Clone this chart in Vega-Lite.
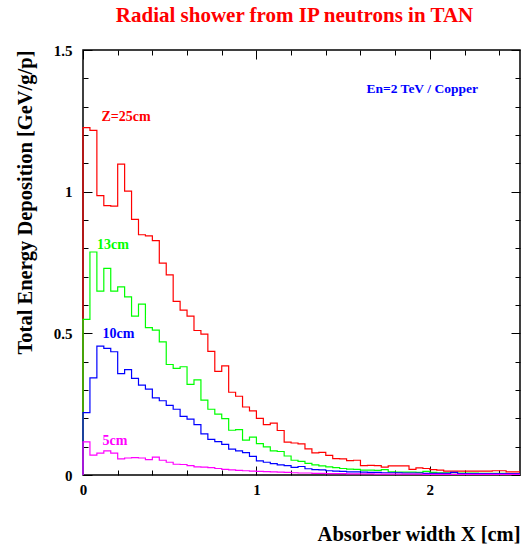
{
"$schema": "https://vega.github.io/schema/vega-lite/v6.json",
"width": 437, "height": 425,
"autosize": {"type": "none"},
"padding": {"left": 83, "top": 50, "right": 6, "bottom": 73},
"background": "white",
"title": {"text": "Radial shower from IP neutrons in TAN", "color": "#ff0000", "font": "Liberation Serif", "fontSize": 21, "fontWeight": "bold", "anchor": "middle", "frame": "group", "offset": 17, "dx": -7},
"config": {"view": {"stroke": "black", "strokeWidth": 1.5}},
"datasets": {
"hist": [
{"series":"Z=25cm","x":0,"y":0},{"series":"Z=25cm","x":0,"y":1.226},{"series":"Z=25cm","x":0.04,"y":1.216},{"series":"Z=25cm","x":0.08,"y":0.986},{"series":"Z=25cm","x":0.12,"y":0.951},{"series":"Z=25cm","x":0.16,"y":0.949},{"series":"Z=25cm","x":0.2,"y":1.097},{"series":"Z=25cm","x":0.24,"y":1.002},{"series":"Z=25cm","x":0.28,"y":0.902},{"series":"Z=25cm","x":0.32,"y":0.848},{"series":"Z=25cm","x":0.36,"y":0.844},{"series":"Z=25cm","x":0.4,"y":0.827},{"series":"Z=25cm","x":0.44,"y":0.748},{"series":"Z=25cm","x":0.48,"y":0.706},{"series":"Z=25cm","x":0.52,"y":0.613},{"series":"Z=25cm","x":0.56,"y":0.582},{"series":"Z=25cm","x":0.6,"y":0.561},{"series":"Z=25cm","x":0.64,"y":0.510},{"series":"Z=25cm","x":0.68,"y":0.497},{"series":"Z=25cm","x":0.72,"y":0.436},{"series":"Z=25cm","x":0.76,"y":0.366},{"series":"Z=25cm","x":0.8,"y":0.385},{"series":"Z=25cm","x":0.84,"y":0.292},{"series":"Z=25cm","x":0.88,"y":0.278},{"series":"Z=25cm","x":0.92,"y":0.240},{"series":"Z=25cm","x":0.96,"y":0.226},{"series":"Z=25cm","x":1,"y":0.200},{"series":"Z=25cm","x":1.04,"y":0.178},{"series":"Z=25cm","x":1.08,"y":0.183},{"series":"Z=25cm","x":1.12,"y":0.157},{"series":"Z=25cm","x":1.16,"y":0.116},{"series":"Z=25cm","x":1.2,"y":0.113},{"series":"Z=25cm","x":1.24,"y":0.110},{"series":"Z=25cm","x":1.28,"y":0.092},{"series":"Z=25cm","x":1.32,"y":0.078},{"series":"Z=25cm","x":1.36,"y":0.080},{"series":"Z=25cm","x":1.4,"y":0.069},{"series":"Z=25cm","x":1.44,"y":0.058},{"series":"Z=25cm","x":1.48,"y":0.057},{"series":"Z=25cm","x":1.52,"y":0.051},{"series":"Z=25cm","x":1.56,"y":0.052},{"series":"Z=25cm","x":1.6,"y":0.033},{"series":"Z=25cm","x":1.64,"y":0.034},{"series":"Z=25cm","x":1.68,"y":0.033},{"series":"Z=25cm","x":1.72,"y":0.028},{"series":"Z=25cm","x":1.76,"y":0.032},{"series":"Z=25cm","x":1.8,"y":0.032},{"series":"Z=25cm","x":1.84,"y":0.032},{"series":"Z=25cm","x":1.88,"y":0.020},{"series":"Z=25cm","x":1.92,"y":0.025},{"series":"Z=25cm","x":1.96,"y":0.023},{"series":"Z=25cm","x":2,"y":0.019},{"series":"Z=25cm","x":2.04,"y":0.017},{"series":"Z=25cm","x":2.08,"y":0.014},{"series":"Z=25cm","x":2.12,"y":0.014},{"series":"Z=25cm","x":2.16,"y":0.014},{"series":"Z=25cm","x":2.2,"y":0.014},{"series":"Z=25cm","x":2.24,"y":0.014},{"series":"Z=25cm","x":2.28,"y":0.014},{"series":"Z=25cm","x":2.32,"y":0.014},{"series":"Z=25cm","x":2.36,"y":0.015},{"series":"Z=25cm","x":2.4,"y":0.015},{"series":"Z=25cm","x":2.44,"y":0.011},{"series":"Z=25cm","x":2.48,"y":0.011},{"series":"Z=25cm","x":2.52,"y":0.011},
{"series":"13cm","x":0,"y":0},{"series":"13cm","x":0,"y":0.549},{"series":"13cm","x":0.04,"y":0.787},{"series":"13cm","x":0.08,"y":0.649},{"series":"13cm","x":0.12,"y":0.729},{"series":"13cm","x":0.16,"y":0.649},{"series":"13cm","x":0.2,"y":0.664},{"series":"13cm","x":0.24,"y":0.629},{"series":"13cm","x":0.28,"y":0.561},{"series":"13cm","x":0.32,"y":0.603},{"series":"13cm","x":0.36,"y":0.520},{"series":"13cm","x":0.4,"y":0.511},{"series":"13cm","x":0.44,"y":0.470},{"series":"13cm","x":0.48,"y":0.390},{"series":"13cm","x":0.52,"y":0.376},{"series":"13cm","x":0.56,"y":0.382},{"series":"13cm","x":0.6,"y":0.320},{"series":"13cm","x":0.64,"y":0.336},{"series":"13cm","x":0.68,"y":0.264},{"series":"13cm","x":0.72,"y":0.232},{"series":"13cm","x":0.76,"y":0.215},{"series":"13cm","x":0.8,"y":0.199},{"series":"13cm","x":0.84,"y":0.158},{"series":"13cm","x":0.88,"y":0.160},{"series":"13cm","x":0.92,"y":0.123},{"series":"13cm","x":0.96,"y":0.134},{"series":"13cm","x":1,"y":0.111},{"series":"13cm","x":1.04,"y":0.099},{"series":"13cm","x":1.08,"y":0.085},{"series":"13cm","x":1.12,"y":0.083},{"series":"13cm","x":1.16,"y":0.067},{"series":"13cm","x":1.2,"y":0.052},{"series":"13cm","x":1.24,"y":0.048},{"series":"13cm","x":1.28,"y":0.041},{"series":"13cm","x":1.32,"y":0.036},{"series":"13cm","x":1.36,"y":0.032},{"series":"13cm","x":1.4,"y":0.029},{"series":"13cm","x":1.44,"y":0.026},{"series":"13cm","x":1.48,"y":0.023},{"series":"13cm","x":1.52,"y":0.021},{"series":"13cm","x":1.56,"y":0.020},{"series":"13cm","x":1.6,"y":0.017},{"series":"13cm","x":1.64,"y":0.017},{"series":"13cm","x":1.68,"y":0.016},{"series":"13cm","x":1.72,"y":0.019},{"series":"13cm","x":1.76,"y":0.011},{"series":"13cm","x":1.8,"y":0.010},{"series":"13cm","x":1.84,"y":0.010},{"series":"13cm","x":1.88,"y":0.010},{"series":"13cm","x":1.92,"y":0.009},{"series":"13cm","x":1.96,"y":0.013},{"series":"13cm","x":2,"y":0.009},{"series":"13cm","x":2.04,"y":0.008},{"series":"13cm","x":2.08,"y":0.008},{"series":"13cm","x":2.12,"y":0.008},{"series":"13cm","x":2.16,"y":0.007},{"series":"13cm","x":2.2,"y":0.007},{"series":"13cm","x":2.24,"y":0.007},{"series":"13cm","x":2.28,"y":0.006},{"series":"13cm","x":2.32,"y":0.006},{"series":"13cm","x":2.36,"y":0.006},{"series":"13cm","x":2.4,"y":0.006},{"series":"13cm","x":2.44,"y":0.005},{"series":"13cm","x":2.48,"y":0.005},{"series":"13cm","x":2.52,"y":0.005},
{"series":"10cm","x":0,"y":0},{"series":"10cm","x":0,"y":0.220},{"series":"10cm","x":0.04,"y":0.343},{"series":"10cm","x":0.08,"y":0.455},{"series":"10cm","x":0.12,"y":0.447},{"series":"10cm","x":0.16,"y":0.435},{"series":"10cm","x":0.2,"y":0.358},{"series":"10cm","x":0.24,"y":0.372},{"series":"10cm","x":0.28,"y":0.341},{"series":"10cm","x":0.32,"y":0.317},{"series":"10cm","x":0.36,"y":0.303},{"series":"10cm","x":0.4,"y":0.272},{"series":"10cm","x":0.44,"y":0.262},{"series":"10cm","x":0.48,"y":0.246},{"series":"10cm","x":0.52,"y":0.232},{"series":"10cm","x":0.56,"y":0.207},{"series":"10cm","x":0.6,"y":0.197},{"series":"10cm","x":0.64,"y":0.178},{"series":"10cm","x":0.68,"y":0.145},{"series":"10cm","x":0.72,"y":0.126},{"series":"10cm","x":0.76,"y":0.118},{"series":"10cm","x":0.8,"y":0.108},{"series":"10cm","x":0.84,"y":0.091},{"series":"10cm","x":0.88,"y":0.085},{"series":"10cm","x":0.92,"y":0.079},{"series":"10cm","x":0.96,"y":0.066},{"series":"10cm","x":1,"y":0.050},{"series":"10cm","x":1.04,"y":0.045},{"series":"10cm","x":1.08,"y":0.040},{"series":"10cm","x":1.12,"y":0.036},{"series":"10cm","x":1.16,"y":0.033},{"series":"10cm","x":1.2,"y":0.027},{"series":"10cm","x":1.24,"y":0.030},{"series":"10cm","x":1.28,"y":0.022},{"series":"10cm","x":1.32,"y":0.019},{"series":"10cm","x":1.36,"y":0.018},{"series":"10cm","x":1.4,"y":0.015},{"series":"10cm","x":1.44,"y":0.014},{"series":"10cm","x":1.48,"y":0.013},{"series":"10cm","x":1.52,"y":0.011},{"series":"10cm","x":1.56,"y":0.011},{"series":"10cm","x":1.6,"y":0.010},{"series":"10cm","x":1.64,"y":0.009},{"series":"10cm","x":1.68,"y":0.009},{"series":"10cm","x":1.72,"y":0.008},{"series":"10cm","x":1.76,"y":0.008},{"series":"10cm","x":1.8,"y":0.008},{"series":"10cm","x":1.84,"y":0.007},{"series":"10cm","x":1.88,"y":0.007},{"series":"10cm","x":1.92,"y":0.007},{"series":"10cm","x":1.96,"y":0.006},{"series":"10cm","x":2,"y":0.006},{"series":"10cm","x":2.04,"y":0.006},{"series":"10cm","x":2.08,"y":0.006},{"series":"10cm","x":2.12,"y":0.009},{"series":"10cm","x":2.16,"y":0.005},{"series":"10cm","x":2.2,"y":0.005},{"series":"10cm","x":2.24,"y":0.005},{"series":"10cm","x":2.28,"y":0.005},{"series":"10cm","x":2.32,"y":0.005},{"series":"10cm","x":2.36,"y":0.005},{"series":"10cm","x":2.4,"y":0.005},{"series":"10cm","x":2.44,"y":0.005},{"series":"10cm","x":2.48,"y":0.005},{"series":"10cm","x":2.52,"y":0.005},
{"series":"5cm","x":0,"y":0},{"series":"5cm","x":0,"y":0.117},{"series":"5cm","x":0.04,"y":0.070},{"series":"5cm","x":0.08,"y":0.077},{"series":"5cm","x":0.12,"y":0.085},{"series":"5cm","x":0.16,"y":0.077},{"series":"5cm","x":0.2,"y":0.057},{"series":"5cm","x":0.24,"y":0.060},{"series":"5cm","x":0.28,"y":0.061},{"series":"5cm","x":0.32,"y":0.060},{"series":"5cm","x":0.36,"y":0.054},{"series":"5cm","x":0.4,"y":0.063},{"series":"5cm","x":0.44,"y":0.052},{"series":"5cm","x":0.48,"y":0.045},{"series":"5cm","x":0.52,"y":0.038},{"series":"5cm","x":0.56,"y":0.037},{"series":"5cm","x":0.6,"y":0.033},{"series":"5cm","x":0.64,"y":0.029},{"series":"5cm","x":0.68,"y":0.028},{"series":"5cm","x":0.72,"y":0.026},{"series":"5cm","x":0.76,"y":0.023},{"series":"5cm","x":0.8,"y":0.020},{"series":"5cm","x":0.84,"y":0.018},{"series":"5cm","x":0.88,"y":0.016},{"series":"5cm","x":0.92,"y":0.015},{"series":"5cm","x":0.96,"y":0.014},{"series":"5cm","x":1,"y":0.013},{"series":"5cm","x":1.04,"y":0.012},{"series":"5cm","x":1.08,"y":0.011},{"series":"5cm","x":1.12,"y":0.010},{"series":"5cm","x":1.16,"y":0.009},{"series":"5cm","x":1.2,"y":0.008},{"series":"5cm","x":1.24,"y":0.007},{"series":"5cm","x":1.28,"y":0.007},{"series":"5cm","x":1.32,"y":0.006},{"series":"5cm","x":1.36,"y":0.006},{"series":"5cm","x":1.4,"y":0.005},{"series":"5cm","x":1.44,"y":0.005},{"series":"5cm","x":1.48,"y":0.005},{"series":"5cm","x":1.52,"y":0.004},{"series":"5cm","x":1.56,"y":0.004},{"series":"5cm","x":1.6,"y":0.004},{"series":"5cm","x":1.64,"y":0.004},{"series":"5cm","x":1.68,"y":0.003},{"series":"5cm","x":1.72,"y":0.003},{"series":"5cm","x":1.76,"y":0.003},{"series":"5cm","x":1.8,"y":0.003},{"series":"5cm","x":1.84,"y":0.003},{"series":"5cm","x":1.88,"y":0.003},{"series":"5cm","x":1.92,"y":0.003},{"series":"5cm","x":1.96,"y":0.002},{"series":"5cm","x":2,"y":0.002},{"series":"5cm","x":2.04,"y":0.002},{"series":"5cm","x":2.08,"y":0.002},{"series":"5cm","x":2.12,"y":0.002},{"series":"5cm","x":2.16,"y":0.002},{"series":"5cm","x":2.2,"y":0.002},{"series":"5cm","x":2.24,"y":0.002},{"series":"5cm","x":2.28,"y":0.002},{"series":"5cm","x":2.32,"y":0.002},{"series":"5cm","x":2.36,"y":0.002},{"series":"5cm","x":2.4,"y":0.002},{"series":"5cm","x":2.44,"y":0.002},{"series":"5cm","x":2.48,"y":0.002},{"series":"5cm","x":2.52,"y":0.002}
],
"labels": [
{"series":"Z=25cm","label":"Z=25cm","x":0.106,"y":1.265},
{"series":"13cm","label":"13cm","x":0.081,"y":0.812},
{"series":"10cm","label":"10cm","x":0.112,"y":0.496},
{"series":"5cm","label":"5cm","x":0.112,"y":0.12}
],
"note": [
{"label":"En=2 TeV / Copper","x":1.635,"y":1.363}
]
},
"layer": [
{
"layer": [
{
"data": {"name": "hist"},
"mark": {"type": "line", "interpolate": "step-after", "strokeWidth": 1.2},
"encoding": {
"x": {"field": "x", "type": "quantitative", "title": "Absorber width X [cm]",
 "scale": {"domain": [0, 2.52], "nice": false, "zero": false},
 "axis": {"orient": "bottom", "values": [0,0.2,0.4,0.6,0.8,1,1.2,1.4,1.6,1.8,2,2.2,2.4],
  "labelExpr": "abs(datum.value-round(datum.value))<1e-6 ? ''+datum.value : ''",
  "tickSize": {"condition": {"test": "abs(datum.value-round(datum.value))<1e-6", "value": -9}, "value": -5},
  "tickColor": "black", "tickWidth": 1, "domain": false, "grid": false,
  "labelFont": "Liberation Serif", "labelFontWeight": "bold", "labelFontSize": 15, "labelColor": "black",
  "labelPadding": 16, "labelFlush": false, "labelOverlap": false,
  "titleFont": "Liberation Serif", "titleFontWeight": "bold", "titleFontSize": 20.5, "titleColor": "black",
  "titleAnchor": "end", "titleAlign": "right", "titleY": 65, "titleBaseline": "alphabetic"}},
"y": {"field": "y", "type": "quantitative", "title": "Total Energy Deposition [GeV/g/p]",
 "scale": {"domain": [0, 1.5], "nice": false},
 "axis": {"orient": "left", "values": [0,0.1,0.2,0.3,0.4,0.5,0.6,0.7,0.8,0.9,1,1.1,1.2,1.3,1.4,1.5],
  "labelExpr": "abs(datum.value*2-round(datum.value*2))<1e-6 ? ''+datum.value : ''",
  "tickSize": {"condition": {"test": "abs(datum.value*2-round(datum.value*2))<1e-6", "value": -9}, "value": -5},
  "tickColor": "black", "tickWidth": 1, "domain": false, "grid": false,
  "labelFont": "Liberation Serif", "labelFontWeight": "bold", "labelFontSize": 15, "labelColor": "black",
  "labelPadding": 20, "labelOverlap": false, "labelFlush": false,
  "titleFont": "Liberation Serif", "titleFontWeight": "bold", "titleFontSize": 20.5, "titleColor": "black",
  "titleAnchor": "end", "titleX": -52, "titleBaseline": "alphabetic"}},
"color": {"field": "series", "type": "nominal", "legend": null,
 "scale": {"domain": ["Z=25cm","13cm","10cm","5cm"], "range": ["#ff0000","#00ff00","#0000ff","#ff00ff"]}}
}
},
{
"data": {"name": "labels"},
"mark": {"type": "text", "align": "left", "baseline": "middle", "font": "Liberation Serif", "fontWeight": "bold", "fontSize": 14},
"encoding": {
"x": {"field": "x", "type": "quantitative", "title": "Absorber width X [cm]",
 "scale": {"domain": [0, 2.52], "nice": false, "zero": false},
 "axis": {"orient": "bottom", "values": [0,0.2,0.4,0.6,0.8,1,1.2,1.4,1.6,1.8,2,2.2,2.4],
  "labelExpr": "abs(datum.value-round(datum.value))<1e-6 ? ''+datum.value : ''",
  "tickSize": {"condition": {"test": "abs(datum.value-round(datum.value))<1e-6", "value": -9}, "value": -5},
  "tickColor": "black", "tickWidth": 1, "domain": false, "grid": false,
  "labelFont": "Liberation Serif", "labelFontWeight": "bold", "labelFontSize": 15, "labelColor": "black",
  "labelPadding": 16, "labelFlush": false, "labelOverlap": false,
  "titleFont": "Liberation Serif", "titleFontWeight": "bold", "titleFontSize": 20.5, "titleColor": "black",
  "titleAnchor": "end", "titleAlign": "right", "titleY": 65, "titleBaseline": "alphabetic"}},
"y": {"field": "y", "type": "quantitative", "title": "Total Energy Deposition [GeV/g/p]",
 "scale": {"domain": [0, 1.5], "nice": false},
 "axis": {"orient": "left", "values": [0,0.1,0.2,0.3,0.4,0.5,0.6,0.7,0.8,0.9,1,1.1,1.2,1.3,1.4,1.5],
  "labelExpr": "abs(datum.value*2-round(datum.value*2))<1e-6 ? ''+datum.value : ''",
  "tickSize": {"condition": {"test": "abs(datum.value*2-round(datum.value*2))<1e-6", "value": -9}, "value": -5},
  "tickColor": "black", "tickWidth": 1, "domain": false, "grid": false,
  "labelFont": "Liberation Serif", "labelFontWeight": "bold", "labelFontSize": 15, "labelColor": "black",
  "labelPadding": 20, "labelOverlap": false, "labelFlush": false,
  "titleFont": "Liberation Serif", "titleFontWeight": "bold", "titleFontSize": 20.5, "titleColor": "black",
  "titleAnchor": "end", "titleX": -52, "titleBaseline": "alphabetic"}},
"text": {"field": "label"},
"color": {"field": "series", "type": "nominal", "legend": null}
}
}
]
},
{
"data": {"name": "note"},
"mark": {"type": "text", "align": "left", "baseline": "middle", "font": "Liberation Serif", "fontWeight": "bold", "fontSize": 13.5, "color": "#0000ff"},
"encoding": {
"x": {"field": "x", "type": "quantitative", "scale": {"domain": [0, 2.52], "nice": false, "zero": false},
 "axis": {"orient": "top", "values": [0,0.2,0.4,0.6,0.8,1,1.2,1.4,1.6,1.8,2,2.2,2.4], "labels": false, "title": null, "domain": false, "grid": false,
  "tickSize": {"condition": {"test": "abs(datum.value-round(datum.value))<1e-6", "value": -9}, "value": -5},
  "tickColor": "black", "tickWidth": 1}},
"y": {"field": "y", "type": "quantitative", "scale": {"domain": [0, 1.5], "nice": false},
 "axis": {"orient": "right", "values": [0,0.1,0.2,0.3,0.4,0.5,0.6,0.7,0.8,0.9,1,1.1,1.2,1.3,1.4,1.5], "labels": false, "title": null, "domain": false, "grid": false,
  "tickSize": {"condition": {"test": "abs(datum.value*2-round(datum.value*2))<1e-6", "value": -9}, "value": -5},
  "tickColor": "black", "tickWidth": 1}},
"text": {"field": "label"}
}
}
],
"resolve": {"axis": {"x": "independent", "y": "independent"}}
}
